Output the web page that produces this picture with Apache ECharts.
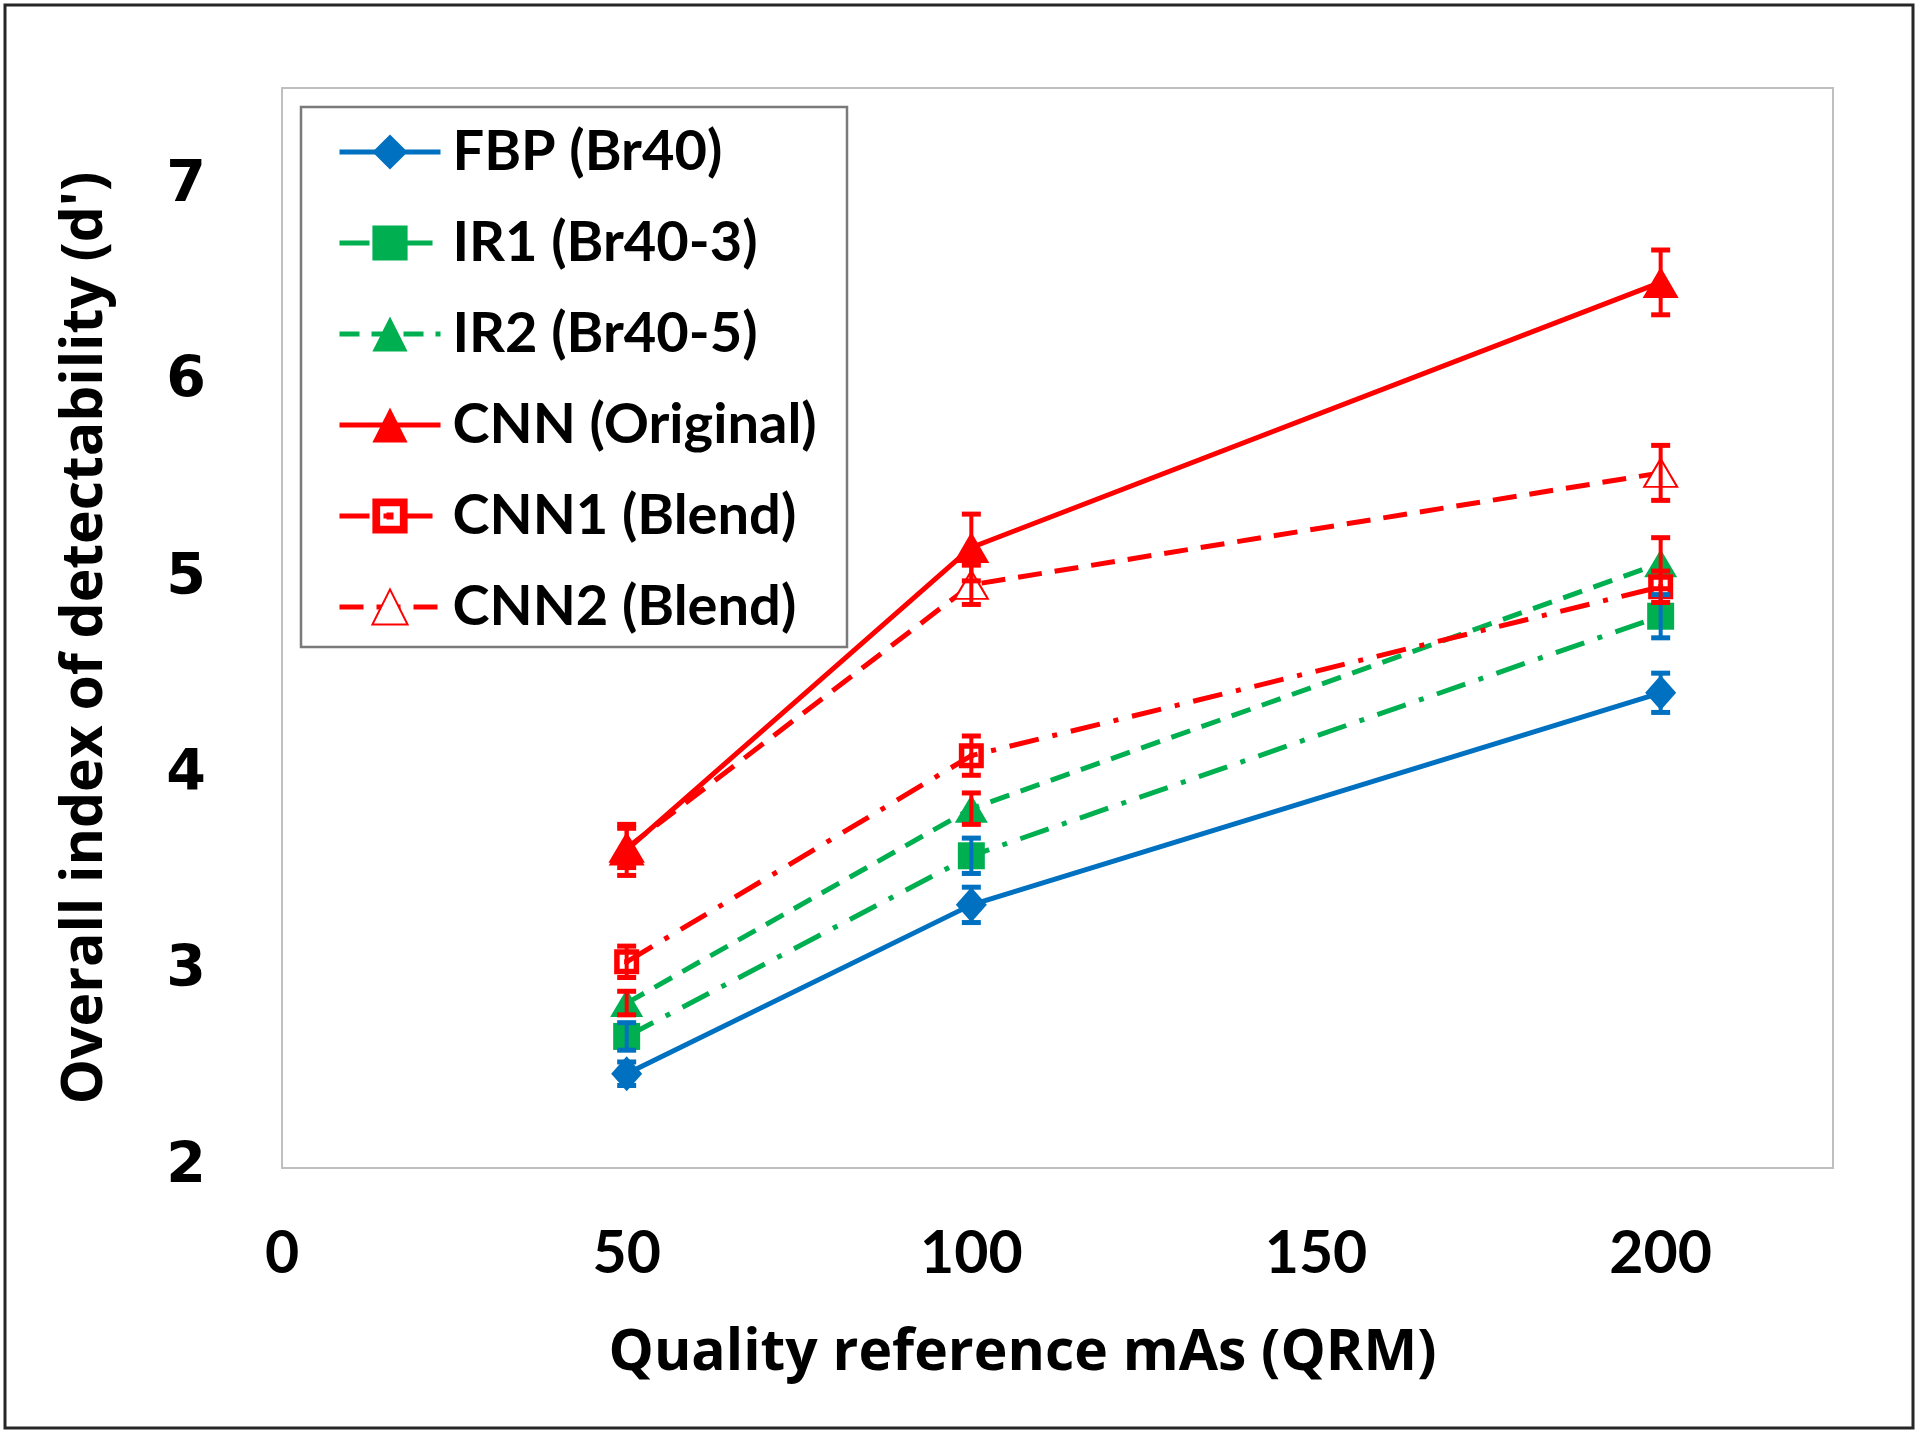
<!DOCTYPE html>
<html>
<head>
<meta charset="utf-8">
<script src="https://cdn.jsdelivr.net/npm/echarts@6/dist/echarts.min.js"></script>
<style>
html,body{margin:0;padding:0;background:#fff;}
#chart{width:1920px;height:1435px;}
</style>
</head>
<body>
<div id="chart"></div>
<script>
// ---- data ----
const qrm = [50, 100, 200];
const xTicks = [0, 50, 100, 150, 200];
const yTicks = [2, 3, 4, 5, 6, 7];
const names = ['FBP (Br40)', 'IR1 (Br40-3)', 'IR2 (Br40-5)', 'CNN (Original)', 'CNN1 (Blend)', 'CNN2 (Blend)'];
const fbp  = [2.48, 3.34, 4.42];
const ir1  = [2.67, 3.59, 4.81];
const ir2  = [2.84, 3.83, 5.08];
const cnn  = [3.62, 5.16, 6.51];
const cnn1 = [3.05, 4.10, 4.96];
const cnn2 = [3.63, 4.97, 5.54];
const fbpErr  = [0.06, 0.09, 0.10];
const ir1Err  = [0.07, 0.09, 0.11];
const ir2Err  = [0.06, 0.08, 0.13];
const cnnErr  = [0.13, 0.17, 0.165];
const cnn1Err = [0.08, 0.10, 0.08];
const cnn2Err = [0.10, 0.10, 0.14];

const BLUE = '#0070C0', GREEN = '#00B050', RED = '#FF0000';

function pts(vals) { return qrm.map((x, i) => [x, vals[i]]); }

function lineSeries(name, vals, color, dash, symbol, size, extra) {
  return Object.assign({
    type: 'line', name: name, data: pts(vals),
    symbol: symbol, symbolSize: size,
    lineStyle: { color: color, width: 5, type: dash },
    itemStyle: { color: color },
    z: 2, animation: false, silent: true
  }, extra || {});
}

function errSeries(vals, errs, color) {
  return {
    type: 'custom', data: qrm.map((x, i) => [x, vals[i] - errs[i], vals[i] + errs[i]]),
    encode: { x: 0, y: [1, 2] }, z: 4, animation: false, silent: true,
    renderItem: function (params, api) {
      const x = api.value(0);
      const lo = api.coord([x, api.value(1)]);
      const hi = api.coord([x, api.value(2)]);
      const w = 9.5;
      return { type: 'group', children: [
        { type: 'line', shape: { x1: lo[0], y1: lo[1], x2: hi[0], y2: hi[1] }, style: { stroke: color, lineWidth: 4 } },
        { type: 'line', shape: { x1: lo[0] - w, y1: lo[1], x2: lo[0] + w, y2: lo[1] }, style: { stroke: color, lineWidth: 5 } },
        { type: 'line', shape: { x1: hi[0] - w, y1: hi[1], x2: hi[0] + w, y2: hi[1] }, style: { stroke: color, lineWidth: 5 } }
      ]};
    }
  };
}

const squareDot = 'path://M0,0 L10,0 L10,10 L0,10 Z M2.2,2.2 L2.2,7.8 L7.8,7.8 L7.8,2.2 Z M4,4 L6,4 L6,6 L4,6 Z';

const chart = echarts.init(document.getElementById('chart'), null, { renderer: 'canvas' });
chart.setOption({
  backgroundColor: '#ffffff',
  animation: false,
  grid: { left: 282, top: 88, width: 1551, height: 1080, show: true, borderColor: '#bfbfbf', borderWidth: 2, backgroundColor: 'transparent' },
  xAxis: {
    type: 'value', min: 0, max: 225, interval: 50,
    axisLine: { show: false }, axisTick: { show: false }, splitLine: { show: false },
    axisLabel: { margin: 56, fontFamily: 'Lato', fontWeight: 'bold', fontSize: 59, color: '#000',
      formatter: v => xTicks.indexOf(v) >= 0 ? String(v) : '' },
    name: 'Quality reference mAs (QRM)', nameLocation: 'middle', nameGap: 157,
    nameTextStyle: { fontFamily: 'Open Sans', fontWeight: 'bold', fontSize: 57, color: '#000', padding: [0, 70, 0, 0] }
  },
  yAxis: {
    type: 'value', min: 2, max: 7.5, interval: 1,
    axisLine: { show: false }, axisTick: { show: false }, splitLine: { show: false },
    axisLabel: { margin: 76, fontFamily: 'DejaVu Sans', fontWeight: 'bold', fontSize: 57, color: '#000',
      formatter: v => yTicks.indexOf(v) >= 0 ? String(v) : '' },
    name: "Overall index of detectability (d')", nameLocation: 'middle', nameGap: 168, nameRotate: 90,
    nameTextStyle: { fontFamily: 'Open Sans', fontWeight: 'bold', fontSize: 57, color: '#000', padding: [0, 20, 0, 0] }
  },
  legend: {
    data: names, orient: 'vertical', left: 337, top: 124, padding: 0,
    itemWidth: 101, itemHeight: 44, itemGap: 35,
    lineStyle: { width: 5 },
    textStyle: { fontFamily: 'Lato', fontWeight: 'bold', fontSize: 56, lineHeight: 55, color: '#000', padding: [0, 0, 0, 7] }
  },
  graphic: [
    { type: 'rect', shape: { x: 5, y: 5, width: 1908, height: 1423 }, style: { fill: 'none', stroke: '#262626', lineWidth: 3 }, silent: true },
    { type: 'rect', shape: { x: 301, y: 107, width: 546, height: 540 }, style: { fill: 'none', stroke: '#7a7a7a', lineWidth: 2.5 }, silent: true, z: 100 }
  ],
  series: [
    lineSeries(names[0], fbp, BLUE, 'solid', 'diamond', [31, 35]),
    lineSeries(names[1], ir1, GREEN, [30, 14, 5, 14], 'rect', 27),
    lineSeries(names[2], ir2, GREEN, [20, 12], 'triangle', [33, 28]),
    lineSeries(names[3], cnn, RED, 'solid', 'triangle', [36, 31], { z: 3 }),
    lineSeries(names[4], cnn1, RED, [30, 14, 5, 14], squareDot, 25),
    lineSeries(names[5], cnn2, RED, [24, 13], 'emptyTriangle', [33, 28], { itemStyle: { color: RED, borderWidth: 3 } }),
    errSeries(fbp, fbpErr, BLUE),
    errSeries(ir1, ir1Err, BLUE),
    errSeries(ir2, ir2Err, RED),
    errSeries(cnn, cnnErr, RED),
    errSeries(cnn1, cnn1Err, RED),
    errSeries(cnn2, cnn2Err, RED)
  ]
});
</script>
</body>
</html>
